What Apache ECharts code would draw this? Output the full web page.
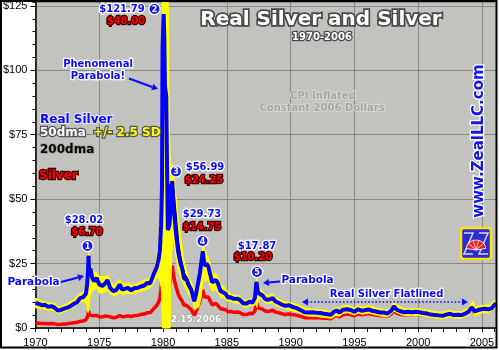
<!DOCTYPE html>
<html><head><meta charset="utf-8">
<script src="https://cdn.jsdelivr.net/npm/echarts@6/dist/echarts.min.js"></script>
<style>html,body{margin:0;padding:0;background:#fff;}#c{width:500px;height:350px;}</style>
</head><body><div id="c"></div>
<script>
// ---- DATA (decimal years) ----
const dates = [1970.0,1970.25,1970.5,1970.75,1971.0,1971.25,1971.5,1971.75,1972.0,1972.25,
1972.5,1972.75,1973.0,1973.25,1973.5,1973.75,1973.95,1974.05,1974.12,1974.16,
1974.22,1974.3,1974.45,1974.6,1974.8,1975.0,1975.25,1975.5,1975.65,1975.85,
1976.1,1976.35,1976.6,1976.8,1977.0,1977.25,1977.5,1977.75,1978.0,1978.25,
1978.5,1978.75,1979.0,1979.25,1979.5,1979.65,1979.75,1979.85,1979.92,1979.96,
1980.0,1980.05,1980.1,1980.15,1980.25,1980.32,1980.38,1980.5,1980.62,1980.72,
1980.82,1980.92,1981.05,1981.2,1981.35,1981.5,1981.65,1981.85,1982.0,1982.2,
1982.45,1982.6,1982.75,1982.9,1983.0,1983.12,1983.25,1983.4,1983.55,1983.7,
1983.85,1984.0,1984.15,1984.3,1984.5,1984.7,1984.9,1985.1,1985.3,1985.55,
1985.8,1986.0,1986.3,1986.55,1986.8,1987.0,1987.2,1987.32,1987.45,1987.6,
1987.8,1988.0,1988.2,1988.4,1988.6,1988.8,1989.0,1989.3,1989.6,1989.9,
1990.2,1990.5,1990.8,1991.1,1991.4,1991.7,1992.0,1992.3,1992.6,1992.9,
1993.15,1993.4,1993.6,1993.85,1994.1,1994.4,1994.7,1995.0,1995.3,1995.55,
1995.8,1996.1,1996.4,1996.7,1997.0,1997.3,1997.6,1997.9,1998.1,1998.3,
1998.6,1998.9,1999.2,1999.5,1999.8,2000.1,2000.4,2000.7,2001.0,2001.3,
2001.6,2001.9,2002.2,2002.5,2002.8,2003.1,2003.4,2003.7,2003.95,2004.2,
2004.3,2004.45,2004.7,2004.95,2005.2,2005.5,2005.75,2005.95,2006.1];

const realSilver = [9.7,9.4,8.8,9.0,8.2,8.5,7.9,6.8,7.0,7.5,
7.9,8.5,9.3,10.0,11.6,12.0,13.3,16.9,21.8,28.02,
21.2,23.1,19.5,18.1,19.4,16.9,16.3,17.5,18.6,15.6,
14.3,14.8,16.9,14.9,15.2,15.6,14.6,15.5,15.5,16.1,
16.4,17.5,17.4,20.7,23.6,26.6,30,40,55,108,
115,121.79,112,94,90,60,38,40,48,56.99,
48,42,35,29.2,25.5,23.1,19.2,18.8,16.8,15.0,
10.4,13.5,17.5,21.5,25.5,29.73,24.1,25.0,23.9,20.8,
17.7,17.2,18.6,17.4,14.4,13.9,13.3,11.8,11.9,11.3,
11.4,11.0,9.5,9.5,10.3,9.8,11.6,17.87,13.7,13.5,
12.6,11.3,10.9,11.2,11.6,10.4,9.9,9.1,8.6,8.8,
8.1,7.7,6.9,6.1,6.0,6.1,5.9,5.8,5.5,5.3,
5.1,6.3,6.8,6.0,7.1,7.3,7.0,6.3,7.3,6.7,
6.9,7.2,6.7,6.4,6.0,6.0,5.6,6.8,8.4,7.2,
6.5,6.1,6.3,6.1,6.3,6.1,5.8,5.6,5.2,5.0,
4.9,4.7,5.2,5.5,5.0,5.1,5.0,5.6,6.3,8.0,
8.7,6.4,7.0,7.3,7.5,7.3,7.6,8.8,9.6];

// 200dma of real silver (mostly hidden behind the real silver line)
const dma200 = [9.7,9.4,8.8,9.0,8.2,8.5,7.9,6.8,7.0,7.5,
7.9,8.5,9.3,10.0,11.6,12.0,13.3,16.9,21.8,28.02,
21.2,23.1,19.5,18.1,19.4,16.9,16.3,17.5,18.6,15.6,
14.3,14.8,16.9,14.9,15.2,15.6,14.6,15.5,15.5,16.1,
16.4,17.5,17.4,20.7,23.6,26.6,30,40,55,108,
115,121.79,112,94,90,60,50,55,56,56.99,
53,48,41,33,28,24.5,21,19.5,17.5,15.0,
10.4,13.5,17.5,21.5,25.5,29.73,24.1,25.0,23.9,20.8,
18.8,18.2,18.6,17.4,14.4,13.9,13.3,11.8,11.9,11.3,
11.4,11.0,9.5,9.5,10.3,9.8,11.6,17.87,13.7,13.5,
12.6,11.3,10.9,11.2,11.6,10.4,9.9,9.1,8.6,8.8,
8.1,7.7,6.9,6.1,6.0,6.1,5.9,5.8,5.5,5.3,
5.1,6.3,6.8,6.0,7.1,7.3,7.0,6.3,7.3,6.7,
6.9,7.2,6.7,6.4,6.0,6.0,5.6,6.8,8.4,7.2,
6.5,6.1,6.3,6.1,6.3,6.1,5.8,5.6,5.2,5.0,
4.9,4.7,5.2,5.5,5.0,5.1,5.0,5.6,6.3,8.0,
8.7,6.4,7.0,7.3,7.5,7.3,7.6,8.8,9.6];

const silver = [1.85,1.80,1.70,1.75,1.63,1.70,1.60,1.38,1.45,1.55,
1.65,1.80,2.00,2.20,2.60,2.75,3.10,4.00,5.20,6.70,
5.10,5.60,4.80,4.50,4.90,4.35,4.30,4.70,5.05,4.30,
4.00,4.20,4.85,4.35,4.50,4.70,4.45,4.80,4.90,5.20,
5.40,5.90,6.00,7.40,8.70,10.0,11.5,15.5,21.5,34,
40,48,44,37,36,24,15.5,16.5,20,24.25,
20.5,18,15.5,13.0,11.5,10.5,8.8,8.8,8.0,7.2,
5.0,6.5,8.5,10.5,12.5,14.75,12.0,12.5,12.0,10.5,
9.0,8.8,9.6,9.0,7.5,7.3,7.1,6.3,6.4,6.1,
6.2,6.0,5.2,5.2,5.7,5.5,6.5,10.2,7.8,7.7,
7.3,6.6,6.4,6.6,6.9,6.2,6.0,5.6,5.2,5.4,
5.1,4.9,4.5,4.0,4.0,4.1,4.0,4.0,3.8,3.75,
3.6,4.5,4.9,4.3,5.2,5.4,5.2,4.75,5.5,5.1,
5.3,5.6,5.2,5.0,4.8,4.8,4.5,5.5,6.8,5.8,
5.3,5.0,5.2,5.1,5.3,5.2,5.0,4.9,4.6,4.4,
4.3,4.2,4.6,4.9,4.5,4.6,4.6,5.1,5.8,7.5,
8.2,6.0,6.7,7.0,7.3,7.1,7.5,8.8,9.6];

// +/- 2.5 SD band around real silver 50dma
const bandDates = [1970.0,1970.5,1971.0,1971.5,1971.75,1972.0,1972.5,1973.0,1973.5,1973.75,
1974.0,1974.12,1974.18,1974.3,1974.5,1974.8,1975.0,1975.5,1975.7,1975.9,
1976.2,1976.6,1976.9,1977.3,1977.6,1978.0,1978.5,1979.0,1979.3,1979.5,
1979.65,1979.75,1979.85,1979.9,1979.93,1979.96,1980.4,1980.45,1980.55,1980.6,
1980.72,1980.82,1980.92,1981.0,1981.2,1981.4,1981.6,1981.8,1982.0,1982.3,
1982.5,1982.7,1982.8,1982.9,1983.0,1983.15,1983.3,1983.5,1983.7,1983.9,
1984.1,1984.3,1984.5,1984.8,1985.0,1985.3,1985.6,1986.0,1986.3,1986.6,
1986.9,1987.1,1987.25,1987.35,1987.45,1987.6,1987.8,1988.0,1988.3,1988.55,
1988.8,1989.0,1989.4,1989.8,1990.2,1990.6,1990.9,1991.2,1991.6,1992.0,
1992.5,1993.0,1993.2,1993.5,1993.85,1994.1,1994.5,1995.0,1995.3,1995.6,
1996.1,1996.5,1997.0,1997.6,1997.9,1998.1,1998.35,1998.9,1999.5,2000.1,
2000.7,2001.3,2001.9,2002.5,2002.8,2003.4,2003.95,2004.3,2004.45,2004.95,
2005.5,2005.95,2006.1];
const bandHigh = [11.5,10.6,9.8,9.5,8.4,8.5,9.4,11.0,13.5,14.0,
17.5,24.0,29.5,26.0,22.0,21.5,20.0,20.0,20.5,18.0,
16.5,19.0,17.0,17.5,16.5,17.5,18.5,19.5,23.0,27.0,
33,42,55,70,126.5,126.5,126.5,95,68,64,
63,60,56,52,42,35,27,23,20,17,
14,18,21,24,29,32,30,28,25,21,
21,20,17,16,14.5,13.3,12.8,12.4,11.0,10.9,
11.6,11.5,14,20,17,15.3,14.3,13,12.6,13.4,
12,11.4,10.5,10.0,9.6,9.0,8.3,7.6,7.4,7.2,
6.9,6.6,6.5,8.1,7.6,8.6,8.8,7.8,8.9,8.2,
8.7,8.2,7.4,7.0,8.3,10.3,8.9,7.5,7.5,7.5,
7.0,6.4,6.1,6.9,6.4,6.4,7.8,10.5,8.3,8.8,
8.8,10.4,11.2];
const bandLow = [7.8,7.4,7.0,6.6,5.6,5.9,6.7,8.0,10.0,10.5,
9.0,6.0,7.0,13.0,14.5,15.5,13.5,14.0,14.5,13.0,
12.5,13.5,13.0,13.6,13.0,13.8,14.5,15.5,17.5,20.0,
19,18,16,12,4,0,0,0,0,15,
34,34,31,28,22,19,17,15,13,11,
7,8,8,10,12,20,18,19,16,14,
15,14,12,11.5,10.5,10.3,9.8,9.5,8.1,8.2,
8.9,8.5,9.5,8.0,10.5,11.5,10.9,9.8,9.5,9.8,
8.9,8.5,7.7,7.1,6.5,6.2,5.5,4.7,4.6,4.5,
4.1,3.9,3.7,4.8,4.6,5.7,5.9,5.0,5.8,5.3,
5.8,5.3,4.7,4.3,5.4,6.6,5.8,4.8,4.8,4.8,
4.3,3.8,3.5,4.2,3.8,3.8,4.9,6.8,4.6,5.9,
5.9,7.3,8.1];

const yearTicks = [1970,1975,1980,1985,1990,1995,2000,2005];
const dollarTicks = [0,25,50,75,100,125];

// ---- CHART ----
const BLUE = '#0a0aff';
const chart = echarts.init(document.getElementById('c'), null, {renderer:'canvas'});
const pair = (xs, ys) => xs.map((x, i) => [x, ys[i]]);
const F = 'DejaVu Sans';

function txt(t, x, y, size, fill, stroke, lw, align) {
  return {type:'text', x:x, y:y, z:100, silent:true,
    style:{text:t, font:'bold '+size+'px "'+F+'"', fill:fill, stroke:stroke||null, lineWidth:lw||0,
      align:align||'center', verticalAlign:'middle'}};
}
function circ(n, cx, cy) {
  return [{type:'circle', z:100, silent:true, shape:{cx:cx, cy:cy, r:5.6}, style:{fill:'#1818ee', stroke:'#fff', lineWidth:1.3}},
    txt(String(n), cx, cy+0.5, 8, '#fff')];
}
function arrow(x1, y1, x2, y2, color) {
  const a = Math.atan2(y2-y1, x2-x1), L = 6, W = 3.5;
  const bx = x2 - L*Math.cos(a), by = y2 - L*Math.sin(a);
  const px = -Math.sin(a)*W, py = Math.cos(a)*W;
  return [{type:'line', z:100, silent:true, shape:{x1:x1, y1:y1, x2:bx, y2:by}, style:{stroke:color, lineWidth:2}},
    {type:'polygon', z:100, silent:true, shape:{points:[[x2,y2],[bx+px,by+py],[bx-px,by-py]]}, style:{fill:color}}];
}

const WH = '#ffffff', DK = '#555', RDK = '#3a0000';
let g = [];
g.push(txt('Real Silver and Silver', 321, 20, 20, '#fff', '#4a4a4a', 3.5));
g.push(txt('1970-2006', 322, 37.5, 10, '#fff', '#4a4a4a', 2.5));
g.push(txt('CPI Inflated', 323, 96.5, 10, '#a6a6a2', '#dcdcd8', 1.5));
g.push(txt('Constant 2006 Dollars', 322, 108.5, 10, '#a6a6a2', '#dcdcd8', 1.5));
// legend
g.push(txt('Real Silver', 40, 120, 12, BLUE, '#e8e8f8', 2, 'left'));
g.push(txt('50dma', 40, 133, 12, '#fff', DK, 2.5, 'left'));
g.push(txt('+/- 2.5 SD', 93, 133, 12, '#ffff00', DK, 2.5, 'left'));
g.push(txt('200dma', 40, 150, 12, '#000', '#a9a9a5', 2, 'left'));
g.push(txt('Silver', 39, 176, 12, '#ff0000', RDK, 2.5, 'left'));
// peak labels
g.push(txt('$121.79', 122, 9, 10, BLUE, WH, 2.5));
g = g.concat(circ(2, 154.5, 9));
g.push(txt('$48.00', 126, 21, 10, '#ff0000', RDK, 2.5));
g.push(txt('Phenomenal', 98, 64, 10, BLUE, WH, 2.5));
g.push(txt('Parabola!', 98, 76, 10, BLUE, WH, 2.5));
g = g.concat(arrow(129, 78.5, 158, 89, BLUE));
g.push(txt('$28.02', 84, 220.5, 10, BLUE, WH, 2.5));
g.push(txt('$6.70', 87, 232, 10, '#ff0000', RDK, 2.5));
g = g.concat(circ(1, 87.5, 246));
g.push(txt('$56.99', 205, 167.5, 10, BLUE, WH, 2.5));
g.push(txt('$24.25', 204, 180, 10, '#ff0000', RDK, 2.5));
g = g.concat(circ(3, 176, 171.5));
g.push(txt('$29.73', 202, 214.5, 10, BLUE, WH, 2.5));
g.push(txt('$14.75', 202, 227, 10, '#ff0000', RDK, 2.5));
g = g.concat(circ(4, 202.5, 241));
g.push(txt('$17.87', 257, 246, 10, BLUE, WH, 2.5));
g.push(txt('$10.20', 253, 257, 10, '#ff0000', RDK, 2.5));
g = g.concat(circ(5, 257, 272));
g.push(txt('Parabola', 33.5, 282, 10.5, BLUE, WH, 2.5));
g = g.concat(arrow(61, 282, 84, 276, BLUE));
g.push(txt('Parabola', 307.5, 280.5, 10.5, BLUE, WH, 2.5));
g = g.concat(arrow(280, 281.5, 263, 283, BLUE));
g.push(txt('Real Silver Flatlined', 386.5, 294, 10, BLUE, WH, 2.5));
g.push({type:'line', z:100, silent:true, shape:{x1:307, y1:302, x2:463, y2:302}, style:{stroke:BLUE, lineWidth:1.6, lineDash:[1.6,2]}});
g.push({type:'polygon', z:100, silent:true, shape:{points:[[302,302],[308,298.5],[308,305.5]]}, style:{fill:BLUE}});
g.push({type:'polygon', z:100, silent:true, shape:{points:[[468,302],[462,298.5],[462,305.5]]}, style:{fill:BLUE}});
g.push(txt('2.15.2006', 196, 319.5, 9, '#fff', '#9a9a96', 1));
g.push({type:'text', x:479, y:141, rotation:Math.PI/2, z:100, silent:true,
  style:{text:'www.ZealLLC.com', font:'bold 15px "'+F+'"', fill:'#1414e6', stroke:'#fff', lineWidth:2.5, align:'center', verticalAlign:'middle'}});
// logo
g.push({type:'rect', z:100, silent:true, shape:{x:461, y:228, width:30, height:31, r:3}, style:{fill:'#2c2cd0', stroke:'#ffe400', lineWidth:2.5}});
g.push({type:'polyline', z:101, silent:true, shape:{points:[[464,233],[473,233],[464,254],[473,254]]}, style:{stroke:'#d8d8ff', lineWidth:1.5, fill:null}});
g.push({type:'polyline', z:101, silent:true, shape:{points:[[479,233],[488,233],[479,254],[488,254]]}, style:{stroke:'#d8d8ff', lineWidth:1.5, fill:null}});
g.push({type:'sector', z:102, silent:true, shape:{cx:476, cy:250, r:10, r0:0, startAngle:Math.PI*1.05, endAngle:Math.PI*1.95}, style:{fill:'#e82020', stroke:'#fff', lineWidth:0.8}});
for (let k = 1; k < 5; k++) {
  const a = Math.PI*(1.05 + 0.9*k/5);
  g.push({type:'line', z:103, silent:true, shape:{x1:476, y1:250, x2:476+10*Math.cos(a), y2:250+10*Math.sin(a)}, style:{stroke:'#fff', lineWidth:0.8}});
}
// frame
g.push({type:'rect', z:200, silent:true, shape:{x:1, y:1, width:495.5, height:346.5}, style:{fill:null, stroke:'#000', lineWidth:2}});

const axisFont = {fontFamily:'Liberation Sans', fontSize:11, color:'#000'};
const option = {
  animation:false,
  backgroundColor:'#fff',
  grid:{left:34, right:4, top:2, bottom:22, show:true, backgroundColor:'#c2c2be', borderWidth:0},
  xAxis:[
    {type:'value', min:1970, max:2006.1, interval:5,
     axisLine:{show:true, onZero:false, lineStyle:{color:'#000', width:1.5}},
     axisTick:{show:true, length:4, lineStyle:{color:'#000'}},
     axisLabel:Object.assign({margin:9, showMaxLabel:false, formatter:v => yearTicks.indexOf(v) >= 0 ? String(v) : ''}, axisFont),
     splitLine:{show:true, lineStyle:{color:'#8a8a8a', width:1}}},
    {type:'value', min:1970, max:2006.1, interval:1, position:'bottom',
     axisLine:{show:false}, axisTick:{show:true, length:4, lineStyle:{color:'#000'}},
     axisLabel:{show:false}, splitLine:{show:false}}
  ],
  yAxis:[
    {type:'value', min:0, max:126.5, interval:25, position:'left',
     axisLine:{show:true, onZero:false, lineStyle:{color:'#000', width:1.5}},
     axisTick:{show:true, length:5, lineStyle:{color:'#000'}},
     axisLabel:Object.assign({margin:8, showMaxLabel:false, formatter:v => dollarTicks.indexOf(v) >= 0 ? '$' + v : ''}, axisFont),
     splitLine:{show:true, lineStyle:{color:'#8a8a8a', width:1}}},
    {type:'value', min:0, max:126.5, interval:5, position:'left',
     axisLine:{show:false}, axisTick:{show:true, length:3, lineStyle:{color:'#000'}},
     axisLabel:{show:false}, splitLine:{show:false}}
  ],
  series:[
    {type:'line', name:'Silver', data:pair(dates, silver), showSymbol:false, symbol:'none', z:2,
     lineStyle:{color:'#ff0000', width:3.5}, silent:true},
    {type:'custom', name:'band', coordinateSystem:'cartesian2d', z:3, silent:true,
     data:[[1990, 10]],
     renderItem:function(params, api) {
       const pts = [];
       for (let i = 0; i < bandDates.length; i++) pts.push(api.coord([bandDates[i], bandHigh[i]]));
       for (let i = bandDates.length - 1; i >= 0; i--) pts.push(api.coord([bandDates[i], bandLow[i]]));
       return {type:'polygon', shape:{points:pts}, style:{fill:'#ffff00', stroke:'#ffff00', lineWidth:1}};
     }},
    {type:'line', name:'200dma', data:pair(dates, dma200), showSymbol:false, symbol:'none', z:4,
     lineStyle:{color:'#000', width:2}, silent:true},
    {type:'line', name:'Real Silver', data:pair(dates, realSilver), showSymbol:false, symbol:'none', z:5,
     lineStyle:{color:'#0000ff', width:4}, silent:true}
  ],
  graphic:g
};
chart.setOption(option);
</script></body></html>
